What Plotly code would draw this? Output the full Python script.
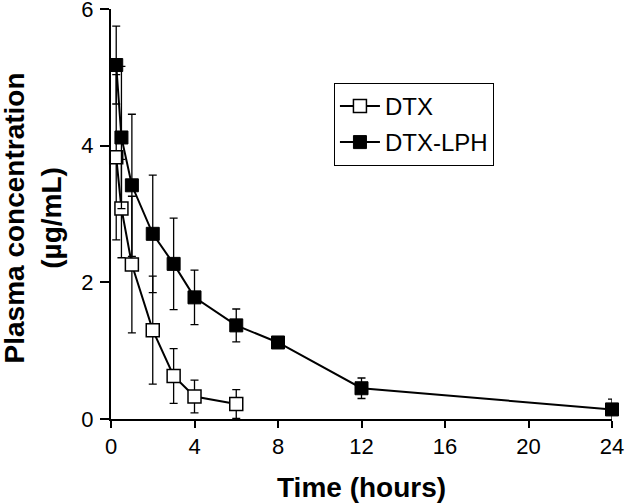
import plotly.graph_objects as go

time_dtx = [0.25, 0.5, 1, 2, 3, 4, 6]
dtx_mean = [3.83, 3.08, 2.26, 1.30, 0.63, 0.33, 0.22]
dtx_err = [1.21, 0.72, 1.00, 0.79, 0.40, 0.24, 0.21]

time_lph = [0.25, 0.5, 1, 2, 3, 4, 6, 8, 12, 24]
lph_mean = [5.18, 4.12, 3.42, 2.71, 2.27, 1.78, 1.37, 1.12, 0.45, 0.14]
lph_err = [0.57, 1.04, 1.04, 0.86, 0.67, 0.40, 0.24, 0.07, 0.15, 0.15]

x_ticks = [0, 4, 8, 12, 16, 20, 24]
y_ticks = [0, 2, 4, 6]

FONT = "Arial, 'Liberation Sans', Helvetica, sans-serif"

fig = go.Figure()
fig.add_trace(go.Scatter(
    x=time_dtx, y=dtx_mean, name="DTX", mode="lines+markers",
    legendgroup="a",
    line=dict(color="black", width=2),
    marker=dict(symbol="square", size=13, color="white", line=dict(color="black", width=1.5)),
    error_y=dict(type="data", array=dtx_err, color="black", thickness=1.3, width=4),
    cliponaxis=False,
))
fig.add_trace(go.Scatter(
    x=time_lph, y=lph_mean, name="DTX-LPH", mode="lines+markers",
    legendgroup="b",
    line=dict(color="black", width=2),
    marker=dict(symbol="square", size=13, color="black", line=dict(color="black", width=1)),
    error_y=dict(type="data", array=lph_err, color="black", thickness=1.3, width=4),
    cliponaxis=False,
))

fig.update_layout(
    width=625, height=504,
    margin=dict(l=111, r=13, t=9, b=85),
    paper_bgcolor="white", plot_bgcolor="white",
    font=dict(family=FONT, color="black", size=22),
    showlegend=True,
    legend=dict(
        x=0.445, y=0.82, xanchor="left", yanchor="top",
        bordercolor="black", borderwidth=1, bgcolor="white",
        font=dict(size=24, family=FONT), tracegroupgap=2,
        traceorder="grouped", itemwidth=40,
    ),
    xaxis=dict(
        range=[0, 24], tickvals=x_ticks, ticktext=[str(v) for v in x_ticks],
        showgrid=False, zeroline=False, showline=True, linecolor="black", linewidth=2,
        ticks="outside", ticklen=7, tickwidth=2, tickcolor="black",
        tickfont=dict(size=22), automargin=False, ticklabeloverflow="allow",
    ),
    yaxis=dict(
        range=[0, 6], tickvals=y_ticks, ticktext=[str(v) for v in y_ticks],
        showgrid=False, zeroline=False, showline=True, linecolor="black", linewidth=2,
        ticks="outside", ticklen=9, tickwidth=2, tickcolor="black",
        tickfont=dict(size=22), automargin=False, ticklabeloverflow="allow",
        ticklabelstandoff=2,
    ),
    annotations=[
        dict(text="<b>Time (hours)</b>", xref="paper", yref="paper",
             x=0.5, y=-0.166, xanchor="center", yanchor="middle",
             showarrow=False, font=dict(size=28, family=FONT)),
        dict(text="<b>Plasma concentration<br>(µg/mL)</b>", xref="paper", yref="paper",
             x=-0.157, y=0.49, xanchor="center", yanchor="middle", textangle=-90,
             showarrow=False, font=dict(size=28, family=FONT)),
    ],
)

fig.write_html("out.html", config={"displayModeBar": False},
               post_script="document.body.style.margin='0';document.body.style.overflow='hidden';")
